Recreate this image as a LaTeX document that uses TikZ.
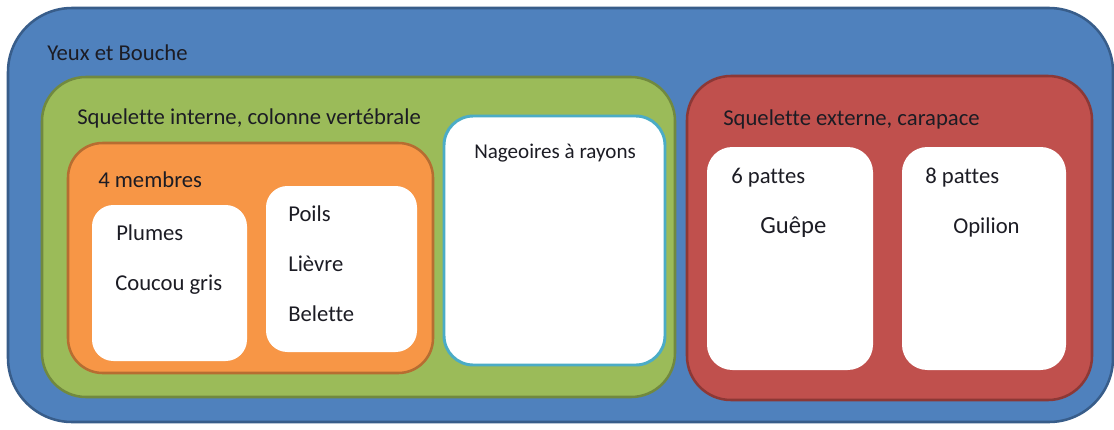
\documentclass[tikz,border=0pt]{standalone}
\usepackage{fontspec}
\setmainfont[Ligatures=NoCommon]{Carlito}
\definecolor{bfill}{HTML}{4F81BD}\definecolor{bline}{HTML}{385D8A}
\definecolor{gfill}{HTML}{9BBB59}\definecolor{gline}{HTML}{71893F}
\definecolor{ofill}{HTML}{F79646}\definecolor{oline}{HTML}{B66D31}
\definecolor{rfill}{HTML}{C0504D}\definecolor{rline}{HTML}{8C3836}
\definecolor{cline}{HTML}{4BACC6}
\definecolor{txt}{HTML}{1C1C24}
\tikzset{
  box/.style={rectangle, anchor=north west, inner sep=0pt, outer sep=0pt},
  wbox/.style={box, fill=white, draw=none},
  lbl/.style={anchor=base west, inner sep=0pt, text=txt, font=\fontsize{17pt}{19pt}\selectfont},
}
\begin{document}
\begin{tikzpicture}[x=0.75pt,y=-0.75pt]
\useasboundingbox (0,0) rectangle (1114,429);
\fill[white] (0,0) rectangle (1114,429);
% outer blue
\node[box, fill=bfill, draw=bline, line width=1.9pt, rounded corners=48pt,
  minimum width=828.75pt, minimum height=310.5pt] (outer) at (8,8) {};
% green
\node[box, fill=gfill, draw=gline, line width=1.9pt, rounded corners=33pt,
  minimum width=474.75pt, minimum height=240pt] (vert) at (42,77) {};
% orange
\node[box, fill=ofill, draw=oline, line width=1.9pt, rounded corners=26pt,
  minimum width=273.75pt, minimum height=172.5pt] (memb) at (68,143) {};
% plumes
\node[wbox, rounded corners=16pt, minimum width=116.25pt, minimum height=117pt] (plum) at (92,205) {};
% poils
\node[wbox, rounded corners=16pt, minimum width=113.25pt, minimum height=124.5pt] (poil) at (266,186) {};
% nageoires
\node[box, fill=white, draw=cline, line width=2.2pt, rounded corners=22pt,
  minimum width=165.75pt, minimum height=186.75pt] (nage) at (444,116) {};
% red
\node[box, fill=rfill, draw=rline, line width=1.9pt, rounded corners=33pt,
  minimum width=303.75pt, minimum height=243pt] (exo) at (687,76) {};
% 6 pattes
\node[wbox, rounded corners=19pt, minimum width=124.5pt, minimum height=167.25pt] (six) at (707,147) {};
% 8 pattes
\node[wbox, rounded corners=19pt, minimum width=123pt, minimum height=167.25pt] (huit) at (902,147) {};
% labels
\node[lbl] (t1) at (47,60) {Yeux et Bouche};
\node[lbl] (t2) at (77,124) {Squelette interne, colonne vertébrale};
\node[lbl] (t3) at (98,187) {4 membres};
\node[lbl] (t4) at (116,240) {Plumes};
\node[lbl] (t5) at (115,290) {Coucou gris};
\node[lbl] (t6) at (288,221) {Poils};
\node[lbl] (t7) at (288,271) {Lièvre};
\node[lbl] (t8) at (288,321) {Belette};
\node[lbl, font=\fontsize{15.8pt}{18pt}\selectfont] (t9) at (474,158) {Nageoires à rayons};
\node[lbl] (t10) at (723,125) {Squelette externe, carapace};
\node[lbl] (t11) at (731,183) {6 pattes};
\node[lbl, font=\fontsize{18.5pt}{20pt}\selectfont] (t12) at (760,233) {Guêpe};
\node[lbl] (t13) at (925,183) {8 pattes};
\node[lbl] (t14) at (953,233) {Opilion};
\end{tikzpicture}
\end{document}
